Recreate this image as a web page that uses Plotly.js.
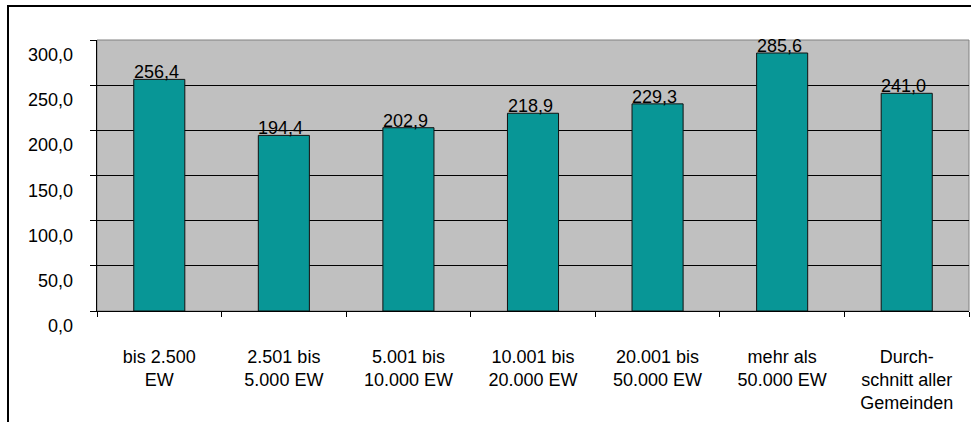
<!DOCTYPE html>
<html>
<head>
<meta charset="utf-8">
<script src="https://cdn.plot.ly/plotly-3.0.1.min.js"></script>
<style>
html,body{margin:0;padding:0;background:#fff;}
#wrap{position:relative;width:971px;height:422px;overflow:hidden;}
#chart{position:absolute;left:0;top:0;width:971px;height:422px;}
#frame{position:absolute;left:7px;top:5px;width:1000px;height:1000px;border-top:2px solid #000;border-left:2px solid #000;pointer-events:none;}
</style>
</head>
<body>
<div id="wrap"><div id="chart"></div><div id="frame"></div></div>
<script>
const categories = ["bis 2.500<br>EW", "2.501 bis<br>5.000 EW", "5.001 bis<br>10.000 EW", "10.001 bis<br>20.000 EW", "20.001 bis<br>50.000 EW", "mehr als<br>50.000 EW", "Durch-<br>schnitt aller<br>Gemeinden"];
const values = [256.4, 194.4, 202.9, 218.9, 229.3, 285.6, 241.0];
const yTicks = [0, 50, 100, 150, 200, 250, 300];

const fontFam = '"Liberation Sans", Arial, sans-serif';
const fmt = v => v.toFixed(1).replace('.', ',');

const trace = {
  type: 'bar',
  x: categories,
  y: values,
  marker: {color: '#089696', line: {color: '#111', width: 1}},
  hoverinfo: 'none'
};

const valueLabels = values.map((v, i) => ({
  x: categories[i], y: v, xref: 'x', yref: 'y',
  text: fmt(v), showarrow: false,
  yanchor: 'bottom', xanchor: 'center',
  xshift: -3, yshift: -5,
  font: {family: fontFam, size: 18, color: '#000'}
}));

const yLabels = yTicks.map(t => ({
  x: 0, y: t, xref: 'paper', yref: 'y',
  text: fmt(t), showarrow: false,
  xanchor: 'right', yanchor: 'middle',
  xshift: -22, yshift: -15,
  font: {family: fontFam, size: 18, color: '#000'}
}));

const layout = {
  width: 971, height: 422,
  margin: {l: 97, r: 2, t: 40, b: 111, pad: 0},
  paper_bgcolor: '#fff',
  plot_bgcolor: '#c0c0c0',
  separators: ',.',
  font: {family: fontFam, size: 18, color: '#000'},
  bargap: 0.59,
  showlegend: false,
  xaxis: {
    type: 'category',
    tickson: 'boundaries',
    ticks: 'outside', ticklen: 5, tickcolor: '#000', tickwidth: 1,
    showline: true, linecolor: '#000', linewidth: 1,
    showgrid: false, zeroline: false,
    ticklabelstandoff: 29,
    tickfont: {family: fontFam, size: 18, color: '#000'}
  },
  yaxis: {
    range: [0, 300],
    tickvals: yTicks,
    showticklabels: false,
    ticks: 'outside', ticklen: 6, tickcolor: '#000', tickwidth: 1,
    showline: true, linecolor: '#000', linewidth: 1,
    showgrid: true, gridcolor: '#000', gridwidth: 1,
    zeroline: false
  },
  shapes: [{
    type: 'rect', xref: 'paper', yref: 'paper', x0: 0, x1: 1, y0: 0, y1: 1,
    line: {color: '#808080', width: 1}, layer: 'below'
  }],
  annotations: valueLabels.concat(yLabels)
};

Plotly.newPlot('chart', [trace], layout, {displayModeBar: false, staticPlot: true});
</script>
</body>
</html>
